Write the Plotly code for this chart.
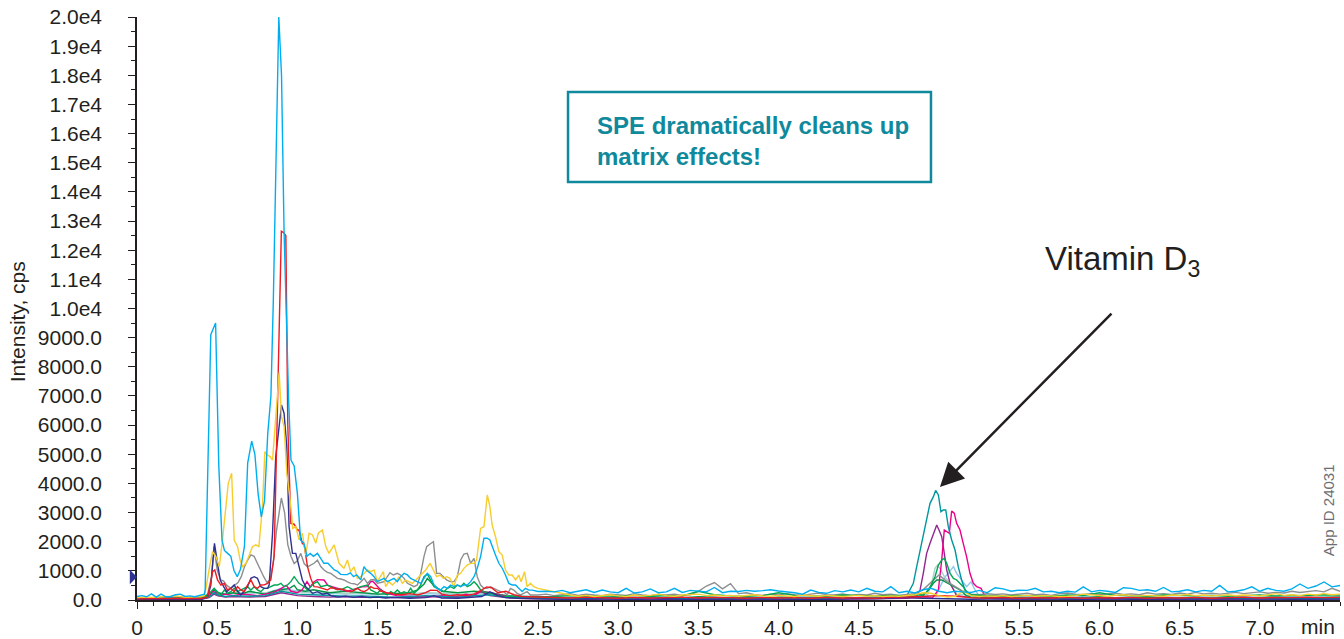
import plotly.graph_objects as go

FONT = "Liberation Sans, Arial, Helvetica, sans-serif"
INK = "#231F20"

# ---------------- ticks ----------------
x_tick_vals = [0.0, 0.5, 1.0, 1.5, 2.0, 2.5, 3.0, 3.5, 4.0, 4.5, 5.0, 5.5, 6.0, 6.5, 7.0]
x_tick_text = ["0", "0.5", "1.0", "1.5", "2.0", "2.5", "3.0", "3.5", "4.0", "4.5",
               "5.0", "5.5", "6.0", "6.5", "7.0"]
y_tick_vals = [0, 1000, 2000, 3000, 4000, 5000, 6000, 7000, 8000, 9000, 10000,
               11000, 12000, 13000, 14000, 15000, 16000, 17000, 18000, 19000, 20000]
y_tick_text = ["0.0", "1000.0", "2000.0", "3000.0", "4000.0", "5000.0", "6000.0",
               "7000.0", "8000.0", "9000.0", "1.0e4", "1.1e4", "1.2e4", "1.3e4",
               "1.4e4", "1.5e4", "1.6e4", "1.7e4", "1.8e4", "1.9e4", "2.0e4"]

# ---------------- shared baseline time grids (min) ----------------
T_TAIL_F = [2.50, 2.55, 2.60, 2.65, 2.70, 2.75, 2.80, 2.85, 2.90, 2.95,
            3.00, 3.05, 3.10, 3.15, 3.20, 3.25, 3.30, 3.35, 3.40, 3.45,
            3.50, 3.55, 3.60, 3.65, 3.70, 3.75, 3.80, 3.85, 3.90, 3.95,
            4.00, 4.05, 4.10, 4.15, 4.20, 4.25, 4.30, 4.35, 4.40, 4.45,
            4.50, 4.55, 4.60, 4.65, 4.70, 4.75, 4.80, 4.85, 4.90, 4.95,
            5.00, 5.05, 5.10, 5.15, 5.20, 5.25, 5.30, 5.35, 5.40, 5.45,
            5.50, 5.55, 5.60, 5.65, 5.70, 5.75, 5.80, 5.85, 5.90, 5.95,
            6.00, 6.05, 6.10, 6.15, 6.20, 6.25, 6.30, 6.35, 6.40, 6.45,
            6.50, 6.55, 6.60, 6.65, 6.70, 6.75, 6.80, 6.85, 6.90, 6.95,
            7.00, 7.05, 7.10, 7.15, 7.20, 7.25, 7.30, 7.35, 7.40, 7.45,
            7.50]
T_TAIL = [2.6, 2.7, 2.8, 2.9, 3.0, 3.1, 3.2, 3.3, 3.4, 3.5,
          3.6, 3.7, 3.8, 3.9, 4.0, 4.1, 4.2, 4.3, 4.4, 4.5,
          4.6, 4.7, 4.8, 4.9, 5.0, 5.1, 5.2, 5.3, 5.4, 5.5,
          5.6, 5.7, 5.8, 5.9, 6.0, 6.1, 6.2, 6.3, 6.4, 6.5,
          6.6, 6.7, 6.8, 6.9, 7.0, 7.1, 7.2, 7.3, 7.4, 7.5]
T_EARLY_MINOR = [0.0, 0.1, 0.2, 0.3, 0.4, 0.45, 0.48, 0.5, 0.55, 0.6,
                 0.7, 0.8, 0.9, 0.95, 1.0, 1.1, 1.2, 1.3, 1.4, 1.5,
                 1.6, 1.7, 1.8, 1.9, 2.0, 2.1, 2.2, 2.3, 2.4, 2.5]

# ---------------- cyan ----------------
t_cyan_early = [0.00, 0.03, 0.06, 0.09, 0.12, 0.15, 0.18, 0.21, 0.24, 0.27,
                0.30, 0.33, 0.36, 0.39, 0.42, 0.425, 0.46, 0.49, 0.51, 0.53,
                0.545, 0.565, 0.585, 0.605, 0.625, 0.645, 0.67, 0.69, 0.715, 0.735,
                0.755, 0.775, 0.795, 0.815, 0.835, 0.85, 0.867, 0.884, 0.901, 0.917,
                0.934, 0.945, 0.96, 0.98, 1.00, 1.02, 1.04, 1.06, 1.08, 1.10,
                1.125, 1.145, 1.165, 1.19, 1.21, 1.23, 1.25, 1.27, 1.29, 1.31,
                1.33, 1.35, 1.37, 1.395, 1.415, 1.435, 1.457, 1.478, 1.498, 1.519,
                1.54, 1.561, 1.582, 1.602, 1.623, 1.644, 1.665, 1.686, 1.706, 1.727,
                1.748, 1.769, 1.789, 1.81, 1.831, 1.852, 1.872, 1.893, 1.914, 1.935,
                1.955, 1.976, 1.997, 2.018, 2.038, 2.059, 2.08, 2.101, 2.121, 2.142,
                2.163, 2.184, 2.2, 2.214, 2.235, 2.256, 2.277, 2.297, 2.318, 2.339,
                2.36, 2.38, 2.401, 2.422, 2.443, 2.464]
i_cyan_early = [120, 150, 110, 210, 100, 200, 110, 120, 180, 200,
                120, 140, 110, 150, 200, 350, 9100, 9500, 4600, 2050,
                1700, 1600, 1500, 1000, 800, 1050, 1850, 4700, 5450, 5000,
                3650, 2850, 3400, 5700, 7000, 10300, 15500, 20000, 18000, 12600,
                9200, 6900, 4800, 4600, 3650, 2050, 1950, 1500, 1600, 1500,
                1600, 1450, 1260, 1260, 1150, 1030, 980, 880, 870, 870,
                930, 800, 860, 690, 1140, 1000, 915, 800, 630, 690,
                740, 630, 690, 740, 630, 800, 915, 860, 740, 690,
                630, 570, 740, 915, 800, 515, 400, 340, 460, 400,
                515, 460, 515, 460, 515, 515, 630, 800, 1090, 1490,
                2120, 2120, 2060, 1830, 1540, 1260, 1090, 860, 570, 515,
                515, 400, 290, 400, 340, 340]
i_cyan_tail = [290, 300, 280, 330, 250, 300, 350, 260, 340, 280,
               250, 400, 240, 280, 380, 250, 280, 400, 260, 330,
               300, 280, 430, 250, 300, 290, 330, 300, 320, 350,
               310, 290, 250, 200, 340, 260, 230, 320, 280, 340,
               280, 400, 300, 280, 460, 250, 300, 240, 350, 400,
               300, 250, 300, 280, 260, 330, 250, 420, 380, 300,
               340, 330, 400, 280, 300, 250, 300, 270, 450, 280,
               330, 300, 260, 420, 400, 330, 350, 300, 430, 280,
               300, 350, 280, 330, 300, 500, 280, 300, 350, 450,
               300, 400, 330, 300, 380, 550, 400, 480, 620, 450,
               500]

# ---------------- yellow ----------------
t_yellow_early = [0.00, 0.05, 0.10, 0.15, 0.20, 0.25, 0.30, 0.35, 0.40, 0.42,
                  0.43, 0.451, 0.471, 0.492, 0.513, 0.533, 0.548, 0.569, 0.59, 0.606,
                  0.627, 0.643, 0.658, 0.679, 0.70, 0.72, 0.74, 0.76, 0.782, 0.797,
                  0.814, 0.83, 0.845, 0.861, 0.876, 0.886, 0.901, 0.917, 0.934, 0.955,
                  0.971, 0.99, 1.011, 1.031, 1.052, 1.073, 1.094, 1.115, 1.13, 1.156,
                  1.177, 1.197, 1.229, 1.26, 1.29, 1.312, 1.332, 1.353, 1.374, 1.395,
                  1.416, 1.436, 1.457, 1.478, 1.498, 1.519, 1.536, 1.55, 1.571, 1.592,
                  1.613, 1.634, 1.654, 1.675, 1.696, 1.717, 1.738, 1.758, 1.779, 1.80,
                  1.827, 1.848, 1.868, 1.889, 1.91, 1.93, 1.951, 1.976, 1.997, 2.018,
                  2.038, 2.059, 2.08, 2.101, 2.117, 2.142, 2.163, 2.184, 2.2, 2.214,
                  2.235, 2.256, 2.277, 2.297, 2.318, 2.339, 2.36, 2.38, 2.395, 2.416,
                  2.432, 2.453, 2.474]
i_yellow_early = [80, 100, 90, 110, 120, 140, 90, 100, 120, 150,
                  400, 1090, 1660, 1490, 1140, 2060, 2970, 4000, 4345, 2060,
                  1830, 1370, 1140, 1260, 1540, 1830, 1890, 1830, 3200, 5090,
                  4975, 4920, 4800, 5950, 6860, 7800, 6290, 5950, 4345, 3430,
                  2460, 2520, 2060, 2290, 1540, 2290, 2230, 1950, 2290, 2400,
                  1830, 1600, 1890, 1260, 1090, 1370, 970, 1140, 740, 800,
                  915, 1030, 971, 1030, 629, 800, 971, 457, 629, 515,
                  629, 800, 572, 686, 629, 572, 686, 800, 915, 1030,
                  1258, 1030, 800, 857, 743, 800, 743, 457, 857, 915,
                  1086, 1200, 1258, 1258, 1372, 2458, 2515, 3602, 3202, 2572,
                  2172, 1658, 1544, 1030, 857, 857, 686, 857, 629, 971,
                  457, 572, 457]
i_yellow_tail = [400, 340, 290, 230, 170, 130, 160, 120, 150, 180,
                 140, 120, 170, 140, 160, 200, 150, 130, 170, 180,
                 200, 150, 170, 140, 160, 130, 150, 180, 140, 130,
                 160, 150, 120, 170, 140, 130, 160, 150, 120, 140,
                 160, 130, 150, 120, 140, 130, 150, 180, 250, 230,
                 150, 100, 120, 300, 150, 120, 140, 130, 150, 120,
                 140, 160, 130, 150, 140, 120, 130, 150, 200, 170,
                 150, 130, 160, 180, 150, 140, 160, 150, 130, 170,
                 160, 190, 150, 170, 140, 160, 180, 150, 170, 160,
                 140, 170, 220, 160, 180, 150, 200, 170, 220, 180,
                 200]

# ---------------- grey ----------------
t_grey_early = [0.00, 0.05, 0.10, 0.15, 0.20, 0.25, 0.30, 0.35, 0.40, 0.44,
                0.465, 0.48, 0.50, 0.52, 0.54, 0.56, 0.585, 0.61, 0.63, 0.65,
                0.67, 0.69, 0.71, 0.73, 0.75, 0.77, 0.79, 0.81, 0.83, 0.85,
                0.87, 0.90, 0.92, 0.94, 0.96, 0.98, 1.00, 1.021, 1.042, 1.063,
                1.083, 1.104, 1.125, 1.146, 1.166, 1.187, 1.208, 1.229, 1.25, 1.27,
                1.291, 1.312, 1.333, 1.353, 1.374, 1.395, 1.416, 1.437, 1.457, 1.478,
                1.498, 1.52, 1.54, 1.577, 1.598, 1.623, 1.644, 1.665, 1.686, 1.706,
                1.727, 1.748, 1.769, 1.789, 1.806, 1.827, 1.848, 1.868, 1.889, 1.91,
                1.93, 1.951, 1.976, 1.997, 2.018, 2.038, 2.059, 2.08, 2.101, 2.121,
                2.142, 2.163, 2.184, 2.204, 2.225, 2.245, 2.266, 2.287, 2.308, 2.328,
                2.349, 2.37, 2.39, 2.411, 2.432, 2.453]
i_grey_early = [60, 80, 70, 90, 80, 100, 70, 90, 80, 200,
                800, 1830, 1030, 700, 650, 500, 400, 500, 600, 800,
                1140, 1370, 1550, 1500, 1250, 1000, 800, 600, 700, 1300,
                2400, 3500, 3000, 1900, 1500, 1250, 1350, 1600, 1250, 1140,
                1200, 1260, 1370, 1150, 1030, 950, 915, 820, 743, 720,
                686, 620, 572, 560, 514, 620, 743, 572, 686, 700,
                572, 600, 629, 937, 857, 915, 857, 743, 572, 515,
                457, 515, 915, 1486, 1830, 1921, 2000, 915, 915, 800,
                686, 629, 629, 800, 1372, 1578, 1601, 1258, 1430, 800,
                515, 400, 400, 457, 400, 343, 286, 286, 172, 400,
                343, 229, 172, 229, 286, 172]
i_grey_tail = [172, 200, 150, 180, 220, 160, 200, 170, 150, 200,
               180, 160, 220, 170, 150, 190, 170, 200, 160, 180,
               300, 480, 600, 380, 560, 220, 250, 180, 160, 200,
               170, 220, 180, 160, 200, 240, 180, 170, 210, 160,
               190, 170, 230, 180, 200, 160, 190, 220, 350, 600,
               857, 629, 457, 300, 200, 180, 220, 190, 210, 170,
               200, 230, 180, 200, 160, 220, 240, 200, 190, 220,
               180, 200, 230, 190, 210, 180, 250, 200, 220, 190,
               240, 200, 260, 210, 230, 200, 240, 260, 220, 250,
               280, 230, 260, 240, 300, 260, 280, 320, 280, 400,
               300]

# ---------------- red ----------------
t_red_early = [0.00, 0.10, 0.20, 0.30, 0.40, 0.44, 0.46, 0.471, 0.485, 0.502,
               0.523, 0.544, 0.564, 0.585, 0.606, 0.627, 0.647, 0.668, 0.689, 0.71,
               0.731, 0.751, 0.772, 0.793, 0.814, 0.834, 0.855, 0.87, 0.885, 0.90,
               0.915, 0.928, 0.94, 0.959, 0.98, 1.00, 1.01, 1.031, 1.042, 1.063,
               1.083, 1.104, 1.125, 1.146, 1.166, 1.187, 1.208, 1.229, 1.25, 1.27,
               1.291, 1.312, 1.333, 1.353, 1.374, 1.395, 1.416, 1.437, 1.457, 1.478,
               1.499, 1.52, 1.54, 1.56, 1.58, 1.60, 1.65, 1.70, 1.75, 1.80,
               1.83, 1.87, 1.90, 1.95, 2.00, 2.05, 2.10, 2.15, 2.18, 2.21,
               2.25, 2.30, 2.35, 2.40, 2.50]
i_red_early = [40, 50, 40, 60, 50, 100, 600, 972, 1030, 686,
               514, 572, 343, 400, 286, 457, 343, 286, 514, 686,
               457, 400, 514, 520, 572, 686, 1500, 5000, 9150, 12650,
               12600, 12500, 6000, 2630, 2600, 2400, 2400, 1940, 1900, 1143,
               744, 457, 450, 400, 380, 343, 420, 400, 350, 380,
               343, 300, 286, 330, 400, 320, 286, 350, 457, 400,
               400, 300, 286, 230, 250, 200, 180, 220, 170, 250,
               340, 330, 200, 150, 180, 150, 200, 350, 450, 420,
               250, 300, 180, 120, 100]
i_red_tail = [90, 70, 100, 80, 60, 90, 70, 80, 100, 70,
              90, 80, 60, 90, 70, 80, 60, 90, 70, 80,
              60, 90, 100, 120, 150, 130, 80, 70, 90, 60,
              80, 70, 90, 60, 80, 70, 90, 60, 80, 70,
              90, 60, 80, 100, 70, 90, 80, 100, 80, 90]

# ---------------- navy ----------------
t_navy_early = [0.00, 0.10, 0.20, 0.30, 0.40, 0.44, 0.46, 0.47, 0.483, 0.502,
                0.519, 0.54, 0.56, 0.585, 0.606, 0.627, 0.647, 0.668, 0.689, 0.71,
                0.731, 0.751, 0.772, 0.793, 0.814, 0.824, 0.845, 0.865, 0.886, 0.901,
                0.917, 0.934, 0.948, 0.969, 0.99, 1.01, 1.031, 1.052, 1.073, 1.094,
                1.125, 1.156, 1.187, 1.208, 1.25, 1.30, 1.35, 1.40, 1.45, 1.50,
                1.55, 1.60, 1.70, 1.80, 1.85, 1.90, 2.00, 2.10, 2.15, 2.20,
                2.25, 2.30, 2.40, 2.50]
i_navy_early = [20, 30, 20, 30, 20, 100, 500, 1140, 1943, 1258,
                686, 457, 286, 400, 514, 300, 171, 300, 457, 744,
                800, 744, 457, 400, 400, 514, 2290, 4920, 6060, 6690,
                6400, 5260, 2520, 1600, 1600, 1143, 686, 457, 343, 229,
                286, 200, 229, 150, 100, 130, 90, 120, 80, 100,
                70, 90, 60, 80, 150, 70, 60, 90, 120, 280,
                150, 80, 50, 40]
i_navy_tail = [30, 20, 40, 25, 35, 20, 30, 45, 25, 30,
               20, 35, 25, 40, 30, 20, 35, 25, 30, 50,
               40, 60, 80, 60, 40, 30, 25, 35, 20, 30,
               40, 25, 30, 20, 35, 45, 25, 30, 20, 40,
               30, 25, 35, 30, 40, 30, 25, 35, 40, 30]

# ---------------- green ----------------
t_green_early = [0.00, 0.10, 0.20, 0.30, 0.40, 0.44, 0.461, 0.481, 0.502, 0.523,
                 0.544, 0.564, 0.585, 0.606, 0.627, 0.647, 0.668, 0.689, 0.71, 0.731,
                 0.751, 0.772, 0.793, 0.814, 0.834, 0.855, 0.876, 0.897, 0.917, 0.938,
                 0.959, 0.98, 1.01, 1.042, 1.063, 1.083, 1.104, 1.125, 1.146, 1.187,
                 1.229, 1.27, 1.312, 1.353, 1.395, 1.437, 1.457, 1.478, 1.498, 1.519,
                 1.54, 1.561, 1.582, 1.602, 1.623, 1.644, 1.665, 1.686, 1.706, 1.727,
                 1.748, 1.769, 1.789, 1.81, 1.831, 1.852, 1.872, 1.893, 1.914, 1.935,
                 1.955, 1.976, 1.997, 2.018, 2.038, 2.059, 2.08, 2.101, 2.121, 2.142,
                 2.163, 2.204, 2.245, 2.287, 2.35, 2.40, 2.50]
i_green_early = [50, 60, 50, 70, 60, 171, 286, 400, 286, 171,
                 343, 229, 286, 400, 286, 343, 400, 457, 343, 457,
                 343, 286, 400, 400, 457, 514, 514, 572, 457, 514,
                 629, 800, 572, 457, 343, 450, 572, 629, 457, 514,
                 400, 343, 457, 343, 457, 514, 343, 286, 229, 343,
                 229, 172, 286, 229, 343, 229, 286, 229, 400, 229,
                 343, 515, 800, 892, 686, 457, 400, 343, 286, 400,
                 457, 400, 515, 457, 572, 457, 515, 629, 515, 343,
                 286, 229, 172, 114, 130, 120, 110]
i_green_tail = [120, 150, 110, 140, 130, 160, 120, 150, 140, 300,
                180, 140, 130, 150, 250, 160, 140, 130, 170, 150,
                140, 160, 150, 200, 900, 900, 150, 150, 130, 160,
                140, 130, 170, 150, 250, 160, 140, 130, 170, 150,
                140, 160, 130, 150, 170, 140, 160, 150, 180, 170]
t_green_vd = [4.92, 4.95, 4.975, 4.996, 5.017, 5.033, 5.048, 5.069, 5.09, 5.11, 5.131, 5.151, 5.172, 5.2]
i_green_vd = [250, 500, 800, 1200, 1372, 1429, 1258, 915, 743, 686, 572, 457, 286, 180]

# ---------------- dark green ----------------
t_dgreen_early = [0.0, 0.1, 0.2, 0.3, 0.4, 0.45, 0.48, 0.5, 0.55, 0.6,
                  0.65, 0.7, 0.75, 0.8, 0.85, 0.9, 0.95, 0.98, 1.0, 1.05,
                  1.1, 1.15, 1.2, 1.3, 1.4, 1.5, 1.6, 1.7, 1.75, 1.79,
                  1.81, 1.85, 1.9, 2.0, 2.1, 2.2, 2.3, 2.4, 2.5]
i_dgreen_early = [30, 40, 30, 40, 50, 150, 350, 250, 200, 250,
                  200, 300, 250, 200, 300, 350, 400, 500, 350, 300,
                  350, 300, 250, 300, 250, 200, 220, 250, 350, 550,
                  743, 500, 300, 250, 300, 250, 150, 100, 80]
i_dgreen_tail = [80, 60, 90, 70, 100, 80, 60, 90, 70, 110,
                 80, 70, 90, 60, 100, 80, 70, 90, 60, 80,
                 70, 90, 100, 120, 500, 400, 100, 90, 70, 80,
                 60, 90, 70, 80, 110, 70, 60, 90, 80, 70,
                 90, 60, 80, 70, 90, 100, 70, 80, 90, 100]
t_dgreen_vd = [4.90, 4.934, 4.965, 4.986, 5.017, 5.058, 5.09, 5.131, 5.17]
i_dgreen_vd = [150, 343, 572, 686, 686, 572, 457, 343, 150]

# ---------------- magenta ----------------
t_magenta_early = [0.0, 0.1, 0.2, 0.3, 0.4, 0.45, 0.47, 0.49, 0.51, 0.55,
                   0.6, 0.65, 0.7, 0.75, 0.8, 0.85, 0.9, 0.93, 0.96, 1.0,
                   1.03, 1.06, 1.08, 1.104, 1.125, 1.146, 1.166, 1.19, 1.22, 1.25,
                   1.28, 1.31, 1.34, 1.37, 1.40, 1.437, 1.457, 1.47, 1.49, 1.51,
                   1.54, 1.58, 1.62, 1.7, 1.8, 1.9, 2.0, 2.05, 2.1, 2.15,
                   2.2, 2.3, 2.4, 2.5]
i_magenta_early = [30, 40, 30, 50, 40, 100, 300, 250, 150, 200,
                   150, 200, 180, 150, 200, 250, 400, 500, 300, 250,
                   350, 630, 450, 629, 700, 690, 686, 500, 450, 400,
                   350, 300, 350, 400, 450, 457, 629, 640, 520, 400,
                   280, 200, 150, 120, 100, 150, 120, 200, 150, 300,
                   250, 120, 80, 60]
i_magenta_tail = [50, 60, 40, 70, 50, 60, 40, 80, 50, 60,
                  70, 50, 60, 40, 60, 50, 70, 40, 60, 50,
                  60, 50, 70, 80, 300, 300, 300, 100, 60, 50,
                  50, 70, 40, 60, 50, 70, 60, 40, 60, 50,
                  70, 50, 60, 40, 60, 70, 50, 60, 80, 60]
t_magenta_vd = [4.96, 4.996, 5.017, 5.033, 5.048, 5.064, 5.079, 5.095, 5.11, 5.131,
                5.151, 5.172, 5.193, 5.214, 5.235, 5.262, 5.283]
i_magenta_vd = [80, 343, 1372, 2401, 2344, 2287, 3050, 2980, 2630, 2401,
                1944, 1487, 915, 572, 457, 400, 172]

# ---------------- purple ----------------
t_purple_early = [0.0, 0.1, 0.2, 0.3, 0.4, 0.45, 0.48, 0.5, 0.55, 0.6,
                  0.7, 0.8, 0.9, 0.95, 1.0, 1.1, 1.2, 1.3, 1.4, 1.5,
                  1.6, 1.7, 1.8, 1.9, 2.0, 2.1, 2.14, 2.2, 2.3, 2.4,
                  2.5]
i_purple_early = [20, 30, 20, 30, 25, 80, 200, 150, 100, 120,
                  100, 120, 250, 200, 150, 120, 100, 120, 90, 100,
                  80, 90, 120, 100, 80, 150, 300, 150, 80, 50,
                  40]
i_purple_tail = [30, 40, 20, 30, 40, 25, 35, 20, 30, 40,
                 30, 20, 40, 25, 35, 30, 20, 40, 30, 35,
                 30, 40, 60, 300, 300, 300, 80, 50, 40, 30,
                 30, 20, 40, 25, 35, 30, 20, 40, 30, 25,
                 35, 30, 20, 40, 30, 25, 35, 30, 40, 30]
t_purple_vd = [4.86, 4.882, 4.902, 4.923, 4.944, 4.965, 4.986, 5.0, 5.017, 5.033, 5.048, 5.069, 5.09, 5.11]
i_purple_vd = [150, 343, 915, 1601, 1944, 2287, 2573, 2401, 2172, 1601, 1030, 572, 343, 150]

# ---------------- teal ----------------
i_teal_early = [40, 50, 40, 50, 40, 100, 250, 180, 120, 150,
                130, 150, 300, 250, 200, 180, 150, 130, 140, 120,
                100, 120, 150, 120, 100, 150, 180, 100, 70, 60]
i_teal_tail = [50, 60, 40, 70, 50, 60, 80, 50, 60, 40,
               60, 50, 70, 40, 60, 50, 70, 60, 50, 60,
               70, 80, 300, 300, 300, 300, 300, 100, 70, 60,
               50, 60, 40, 70, 50, 60, 40, 50, 60, 70,
               50, 60, 70, 50, 60, 40, 60, 70, 50, 60]
t_teal_vd = [4.80, 4.84, 4.861, 4.882, 4.902, 4.923, 4.944, 4.965, 4.979, 4.996,
             5.012, 5.027, 5.042, 5.058, 5.079, 5.10, 5.12, 5.141, 5.162, 5.183, 5.21]
i_teal_vd = [150, 572, 1143, 1715, 2172, 2744, 3316, 3545, 3760, 3602,
             3030, 3087, 3087, 2515, 2058, 1715, 1143, 686, 343, 229, 150]

# ---------------- light blue ----------------
i_lblue_early = [80, 90, 80, 100, 90, 150, 350, 250, 200, 220,
                 250, 230, 400, 350, 300, 250, 230, 200, 220, 180,
                 200, 170, 220, 200, 180, 200, 250, 150, 120, 100]
i_lblue_tail = [80, 100, 70, 90, 110, 80, 100, 90, 70, 100,
                90, 80, 100, 70, 90, 110, 80, 90, 100, 80,
                90, 100, 120, 150, 300, 300, 300, 200, 120, 100,
                90, 80, 100, 110, 90, 80, 100, 90, 110, 80,
                100, 90, 80, 110, 90, 100, 120, 90, 100, 110]
t_lblue_vd = [4.98, 5.017, 5.038, 5.058, 5.09, 5.11, 5.141, 5.172, 5.2, 5.224, 5.25]
i_lblue_vd = [150, 572, 800, 915, 1143, 915, 686, 457, 629, 343, 150]

# ---------------- light teal ----------------
i_lteal_early = [60, 70, 60, 80, 70, 150, 300, 220, 200, 230,
                 260, 240, 350, 300, 280, 250, 260, 220, 250, 200,
                 230, 200, 260, 230, 200, 220, 260, 150, 100, 80]
i_lteal_tail = [60, 80, 50, 70, 60, 90, 70, 60, 80, 70,
                60, 70, 90, 60, 80, 70, 60, 80, 70, 60,
                70, 80, 90, 120, 300, 300, 150, 100, 80, 70,
                80, 70, 60, 90, 70, 80, 60, 70, 80, 90,
                70, 80, 60, 90, 70, 80, 90, 70, 80, 90]
t_lteal_vd = [4.93, 4.955, 4.975, 4.992, 5.012, 5.033, 5.054, 5.079, 5.11]
i_lteal_vd = [200, 572, 1086, 1200, 1030, 800, 686, 457, 200]

# threshold marker on the intensity axis (time, intensity)
marker_t = [0.0]
marker_i = [790]


def build(name, segments, vd=None):
    ts, ys = [], []
    for t, y in segments:
        if len(t) != len(y):
            raise ValueError(f"{name}: length mismatch {len(t)} vs {len(y)}")
        ts += list(t)
        ys += list(y)
    if vd is not None:
        tv, yv = vd
        if len(tv) != len(yv):
            raise ValueError(f"{name} vd: length mismatch")
        lo, hi = min(tv), max(tv)
        keep = [(a, b) for a, b in zip(ts, ys) if not (lo <= a <= hi)]
        keep += list(zip(tv, yv))
        keep.sort(key=lambda p: p[0])
        ts = [p[0] for p in keep]
        ys = [p[1] for p in keep]
    return ts, ys


traces = [
    ("light blue", "#8EC6EA", build("lblue", [(T_EARLY_MINOR, i_lblue_early), (T_TAIL, i_lblue_tail)], (t_lblue_vd, i_lblue_vd))),
    ("light teal", "#A6D3C5", build("lteal", [(T_EARLY_MINOR, i_lteal_early), (T_TAIL, i_lteal_tail)], (t_lteal_vd, i_lteal_vd))),
    ("purple", "#92278F", build("purple", [(t_purple_early, i_purple_early), (T_TAIL, i_purple_tail)], (t_purple_vd, i_purple_vd))),
    ("dark green", "#009444", build("dgreen", [(t_dgreen_early, i_dgreen_early), (T_TAIL, i_dgreen_tail)], (t_dgreen_vd, i_dgreen_vd))),
    ("magenta", "#EC008C", build("magenta", [(t_magenta_early, i_magenta_early), (T_TAIL, i_magenta_tail)], (t_magenta_vd, i_magenta_vd))),
    ("teal", "#00979D", build("teal", [(T_EARLY_MINOR, i_teal_early), (T_TAIL, i_teal_tail)], (t_teal_vd, i_teal_vd))),
    ("grey", "#8C8E90", build("grey", [(t_grey_early, i_grey_early), (T_TAIL_F, i_grey_tail)])),
    ("green", "#00A651", build("green", [(t_green_early, i_green_early), (T_TAIL, i_green_tail)], (t_green_vd, i_green_vd))),
    ("navy", "#2E3192", build("navy", [(t_navy_early, i_navy_early), (T_TAIL, i_navy_tail)])),
    ("red", "#ED1C24", build("red", [(t_red_early, i_red_early), (T_TAIL, i_red_tail)])),
    ("yellow", "#F8CD2E", build("yellow", [(t_yellow_early, i_yellow_early), (T_TAIL_F, i_yellow_tail)])),
    ("cyan", "#00AEEF", build("cyan", [(t_cyan_early, i_cyan_early), (T_TAIL_F, i_cyan_tail)])),
]

fig = go.Figure()
for name, color, (tx, iy) in traces:
    fig.add_trace(go.Scatter(x=tx, y=iy, mode="lines", name=name,
                             line=dict(color=color, width=1.4),
                             hoverinfo="skip", showlegend=False))

axis_common = dict(
    ticks="outside", ticklen=7, tickwidth=1.3, tickcolor=INK,
    showline=True, linecolor=INK, linewidth=1.5,
    showgrid=False, zeroline=False, fixedrange=True, automargin=False,
    tickfont=dict(family=FONT, size=21, color=INK),
)

fig.update_layout(
    width=1344, height=639,
    margin=dict(l=137, r=4, t=17, b=39, pad=0, autoexpand=False),
    paper_bgcolor="white", plot_bgcolor="white",
    showlegend=False,
    font=dict(family=FONT, color=INK),
    xaxis=dict(range=[0, 7.5], tickmode="array", tickvals=x_tick_vals, ticktext=x_tick_text,
               ticklabelstandoff=1,
               minor=dict(tickmode="linear", tick0=0, dtick=0.1, ticks="outside",
                          ticklen=4, tickwidth=1, tickcolor=INK, showgrid=False),
               **axis_common),
    yaxis=dict(range=[0, 20000], tickmode="array", tickvals=y_tick_vals, ticktext=y_tick_text,
               ticklabelstandoff=22,
               minor=dict(tickmode="linear", tick0=0, dtick=500, ticks="outside",
                          ticklen=4, tickwidth=1, tickcolor=INK, showgrid=False),
               **axis_common),
)

BOX = "#10899C"
fig.add_shape(type="rect", xref="paper", yref="paper",
              x0=0.3583, x1=0.660, y0=0.717, y1=0.8714,
              line=dict(color=BOX, width=2.5), fillcolor="rgba(0,0,0,0)")

annotations = [
    dict(text="Intensity, cps", xref="paper", yref="paper", x=-0.0998, y=0.478,
         textangle=-90, showarrow=False, xanchor="center", yanchor="middle",
         font=dict(family=FONT, size=21, color=INK)),
    dict(text="min", xref="paper", yref="paper", x=0.9817, y=-0.0446,
         showarrow=False, xanchor="center", yanchor="middle",
         font=dict(family=FONT, size=21, color=INK)),
    dict(text="<b>SPE dramatically cleans up<br>matrix effects!</b>", xref="paper", yref="paper",
         x=0.3807, y=0.788, xanchor="left", yanchor="middle", align="left", showarrow=False,
         font=dict(family=FONT, size=24, color=BOX)),
    dict(text="Vitamin D<sub>3</sub>", xref="paper", yref="paper", x=0.7531, y=0.5814,
         xanchor="left", yanchor="middle", showarrow=False,
         font=dict(family=FONT, size=33, color=INK)),
    dict(text="", xref="x", yref="y", x=5.006, y=3876, ax=173, ay=-175,
         showarrow=True, arrowhead=2, arrowsize=1.9, arrowwidth=2.5, arrowcolor=INK, standoff=0),
    dict(text="App ID 24031", xref="paper", yref="paper", x=0.990, y=0.154,
         textangle=-90, showarrow=False, xanchor="center", yanchor="middle",
         font=dict(family=FONT, size=15, color="#6D6E71")),
    # threshold marker: small filled triangle pointing at the intensity axis
    dict(text="", xref="x", yref="y", x=marker_t[0], y=marker_i[0], ax=-7, ay=0,
         showarrow=True, arrowhead=1, arrowsize=2.0, arrowwidth=1.2, arrowcolor="#2E3192",
         standoff=0),
]
fig.update_layout(annotations=annotations)

fig.write_html("out.html")
